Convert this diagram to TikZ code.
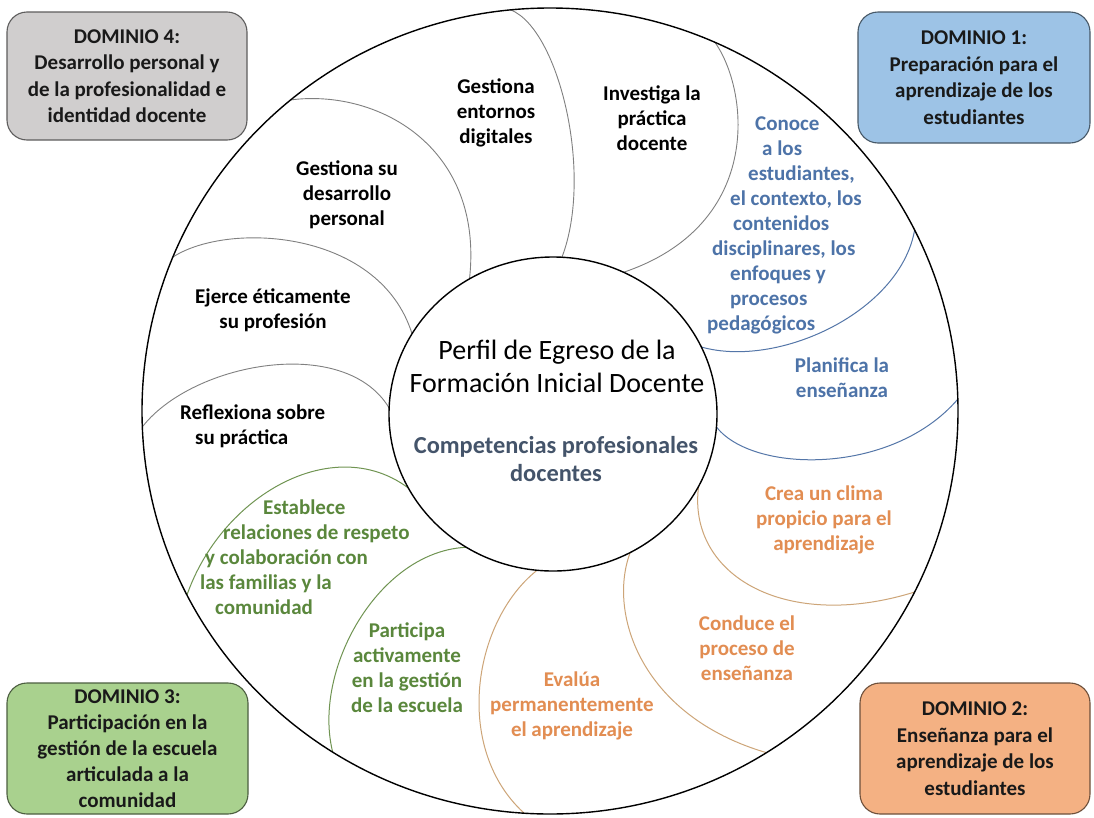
\documentclass[tikz,border=0pt]{standalone}
\usepackage{fontspec}
\setmainfont{Carlito}
\definecolor{lgray}{RGB}{128,128,128}
\definecolor{lblue}{RGB}{84,118,168}
\definecolor{lgreen}{RGB}{112,148,82}
\definecolor{lorange}{RGB}{205,165,120}
\definecolor{tblue}{RGB}{77,115,168}
\definecolor{torange}{RGB}{226,141,82}
\definecolor{tgreen}{RGB}{90,135,60}
\definecolor{tslate}{RGB}{68,84,106}
\definecolor{tdark}{RGB}{25,25,25}
\definecolor{dfa}{RGB}{157,195,230}
\definecolor{dfb}{RGB}{244,177,131}
\definecolor{dfc}{RGB}{169,209,142}
\definecolor{dfd}{RGB}{208,206,206}
\begin{document}
\begin{tikzpicture}[x=1pt,y=-1pt,
  pgray/.style={draw=lgray, line width=0.9pt},
  pblue/.style={draw=lblue, line width=1pt},
  pgreen/.style={draw=lgreen, line width=1pt},
  porange/.style={draw=lorange, line width=1pt},
  ptext/.style={font=\fontsize{21}{25}\selectfont\bfseries, align=center, inner sep=0pt},
  domainbox/.style={rounded corners=20pt, line width=1.1pt, inner sep=0pt, align=center,
     font=\fontsize{21}{26.5}\selectfont\bfseries, text=tdark}]
\useasboundingbox (0,0) rectangle (1094,817);
\fill[white] (0,0) rectangle (1094,817);

% petal boundaries, clipped to the outer circle
\begin{scope}
  \clip (550,411) ellipse [x radius=408, y radius=403];
  \draw[pgray] (511,10) .. controls (560,30) and (595,180) .. (560,262);   % A
  \draw[pgray] (714,41) .. controls (750,90) and (765,230) .. (615,275);   % C
  \draw[pgray] (290,100) .. controls (380,88) and (490,150) .. (468,290);  % B
  \draw[pgray] (173,257) .. controls (230,220) and (390,230) .. (415,345); % D
  \draw[pgray] (140,430) .. controls (190,360) and (360,330) .. (395,420); % E
  \draw[pgreen] (180,620) .. controls (205,500) and (340,420) .. (420,498); % F
  \draw[pgreen] (335,760) .. controls (305,670) and (390,525) .. (495,550); % G
  \draw[porange] (540,568) .. controls (470,620) and (450,760) .. (535,822); % H
  \draw[porange] (632,548) .. controls (605,610) and (640,720) .. (775,755); % I
  \draw[porange] (700,478) .. controls (680,575) and (790,640) .. (935,585); % J
  \draw[pblue] (712,420) .. controls (740,475) and (900,480) .. (965,390);  % K
  \draw[pblue] (915,200) .. controls (930,300) and (780,375) .. (695,345);  % L
\end{scope}

% circles
\draw[line width=1.4pt, fill=white] (553,414) ellipse [x radius=164, y radius=157];
\draw[line width=1.4pt] (550,411) ellipse [x radius=408, y radius=403];

% centre texts
\node[inner sep=0pt, align=center, font=\fontsize{28}{33}\selectfont] (perfil) at (557,366.5)
  {Perfil de Egreso de la\\Formación Inicial Docente};
\node[inner sep=0pt, align=center, text=tslate, font=\fontsize{24.4}{28}\selectfont\bfseries] (comp) at (556,459)
  {Competencias profesionales\\docentes};

% petal texts
\node[ptext] (entornos) at (496,113) {Gestiona\\entornos\\digitales};
\node[ptext] (investiga) at (652,118) {Investiga la\\práctica\\docente};
\node[ptext] (desarrollo) at (347,195) {Gestiona su\\desarrollo\\personal};
\node[ptext] (ejerce) at (273,310.5) {Ejerce éticamente\\su profesión};
\node[ptext, align=left, anchor=west] (reflexiona) at (180,426.5) {Reflexiona sobre\\\hspace*{15pt}su práctica};
\node[ptext, align=left, anchor=west, text=tblue] (conoce) at (707,225)
  {\hspace*{48pt}Conoce\\\hspace*{55pt}a los\\\hspace*{41pt}estudiantes,\\\hspace*{23pt}el contexto, los\\\hspace*{26pt}contenidos\\\hspace*{5pt}disciplinares, los\\\hspace*{23pt}enfoques y\\\hspace*{23pt}procesos\\pedagógicos};
\node[ptext, text=tblue] (planifica) at (842,377.5) {Planifica la\\enseñanza};
\node[ptext, text=torange] (crea) at (824,520) {Crea un clima\\propicio para el\\aprendizaje};
\node[ptext, text=torange] (conduce) at (747,648) {Conduce el\\proceso de\\enseñanza};
\node[ptext, text=torange] (evalua) at (572,706) {Evalúa\\permanentemente\\el aprendizaje};
\node[ptext, text=tgreen] (participa) at (407,668) {Participa\\activamente\\en la gestión\\de la escuela};
\node[ptext, align=left, anchor=west, text=tgreen] (establece) at (200,557.5)
  {\hspace*{63pt}Establece\\\hspace*{23pt}relaciones de respeto\\\hspace*{5pt}y colaboración con\\las familias y la\\\hspace*{15pt}comunidad};

% domain boxes
\node[domainbox, fill=dfd, draw=dfd!45!black, minimum width=240pt, minimum height=128pt] (d4) at (127,76)
  {DOMINIO 4:\\Desarrollo personal y\\de la profesionalidad e\\identidad docente};
\node[domainbox, fill=dfa, draw=dfa!45!black, minimum width=232pt, minimum height=131pt] (d1) at (974,77.5)
  {DOMINIO 1:\\Preparación para el\\aprendizaje de los\\estudiantes};
\node[domainbox, fill=dfc, draw=dfc!45!black, minimum width=241pt, minimum height=131pt,
  font=\fontsize{21}{26}\selectfont\bfseries] (d3) at (127.5,748.5)
  {DOMINIO 3:\\Participación en la\\gestión de la escuela\\articulada a la\\comunidad};
\node[domainbox, fill=dfb, draw=dfb!45!black, minimum width=230pt, minimum height=131pt] (d2) at (975,748.5)
  {DOMINIO 2:\\Enseñanza para el\\aprendizaje de los\\estudiantes};
\end{tikzpicture}
\end{document}
